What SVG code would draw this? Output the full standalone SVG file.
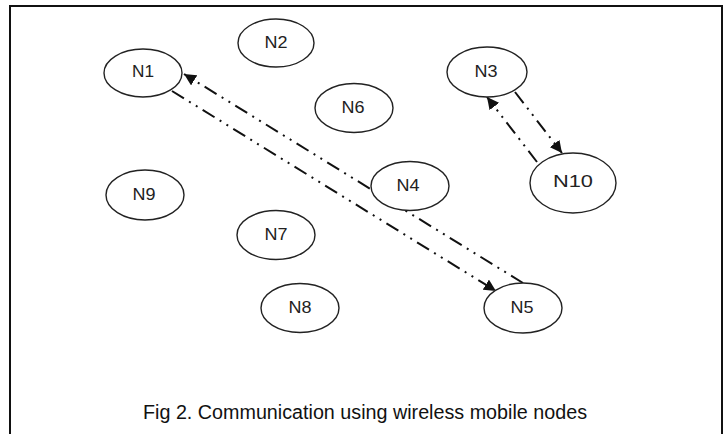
<svg xmlns="http://www.w3.org/2000/svg" width="728" height="434" viewBox="0 0 728 434">
<style>
.node ellipse{fill:#fff;stroke:#222;stroke-width:1.4}
.node text{font-family:"Liberation Sans",Arial,sans-serif;font-size:16px;fill:#222;text-anchor:middle}
.conn line{stroke:#111;stroke-width:2;stroke-dasharray:14 6 2 6 2 6;fill:none}
.cap{font-family:"Liberation Sans",Arial,sans-serif;font-size:19.5px;fill:#111;text-anchor:middle}
</style>
<defs>
<marker id="ah" viewBox="0 0 10 10" refX="10" refY="5" markerWidth="6" markerHeight="6" orient="auto" markerUnits="strokeWidth">
<path d="M0,0 L10,5 L0,10 z" fill="#111"/>
</marker>
</defs>
<rect width="728" height="434" fill="#fff"/>
<path d="M10,434 V6 H722 V434" fill="none" stroke="#111" stroke-width="2"/>
<g class="conn">
<line x1="523" y1="283" x2="184" y2="74" marker-end="url(#ah)"/>
<line x1="172" y1="91" x2="496" y2="291" marker-end="url(#ah)"/>
<line x1="515" y1="92" x2="562" y2="153" marker-end="url(#ah)"/>
<line x1="537" y1="162" x2="487" y2="97" marker-end="url(#ah)"/>
</g>
<g id="N1" class="node"><ellipse cx="143" cy="73" rx="39" ry="24"/><text x="143" y="77" textLength="22" lengthAdjust="spacingAndGlyphs">N1</text></g>
<g id="N2" class="node"><ellipse cx="276" cy="43" rx="38" ry="24"/><text x="276" y="48" textLength="23" lengthAdjust="spacingAndGlyphs">N2</text></g>
<g id="N3" class="node"><ellipse cx="487" cy="72" rx="40" ry="25"/><text x="486" y="77" textLength="23" lengthAdjust="spacingAndGlyphs">N3</text></g>
<g id="N6" class="node"><ellipse cx="354" cy="108" rx="39" ry="24.5"/><text x="353" y="113" textLength="23" lengthAdjust="spacingAndGlyphs">N6</text></g>
<g id="N4" class="node"><ellipse cx="410" cy="186" rx="39" ry="24.5"/><text x="408" y="191" textLength="23" lengthAdjust="spacingAndGlyphs">N4</text></g>
<g id="N10" class="node"><ellipse cx="573" cy="183" rx="43" ry="30"/><text x="573" y="187" textLength="40" lengthAdjust="spacingAndGlyphs">N10</text></g>
<g id="N9" class="node"><ellipse cx="145" cy="195" rx="39" ry="25"/><text x="144" y="200" textLength="23" lengthAdjust="spacingAndGlyphs">N9</text></g>
<g id="N7" class="node"><ellipse cx="276" cy="235" rx="39" ry="24.5"/><text x="276" y="240" textLength="23" lengthAdjust="spacingAndGlyphs">N7</text></g>
<g id="N8" class="node"><ellipse cx="300" cy="308" rx="39" ry="24.5"/><text x="300" y="313" textLength="23" lengthAdjust="spacingAndGlyphs">N8</text></g>
<g id="N5" class="node"><ellipse cx="523" cy="308" rx="39" ry="25"/><text x="522" y="313" textLength="23" lengthAdjust="spacingAndGlyphs">N5</text></g>
<text class="cap" x="365" y="419" textLength="444" lengthAdjust="spacingAndGlyphs">Fig 2. Communication using wireless mobile nodes</text>
</svg>
